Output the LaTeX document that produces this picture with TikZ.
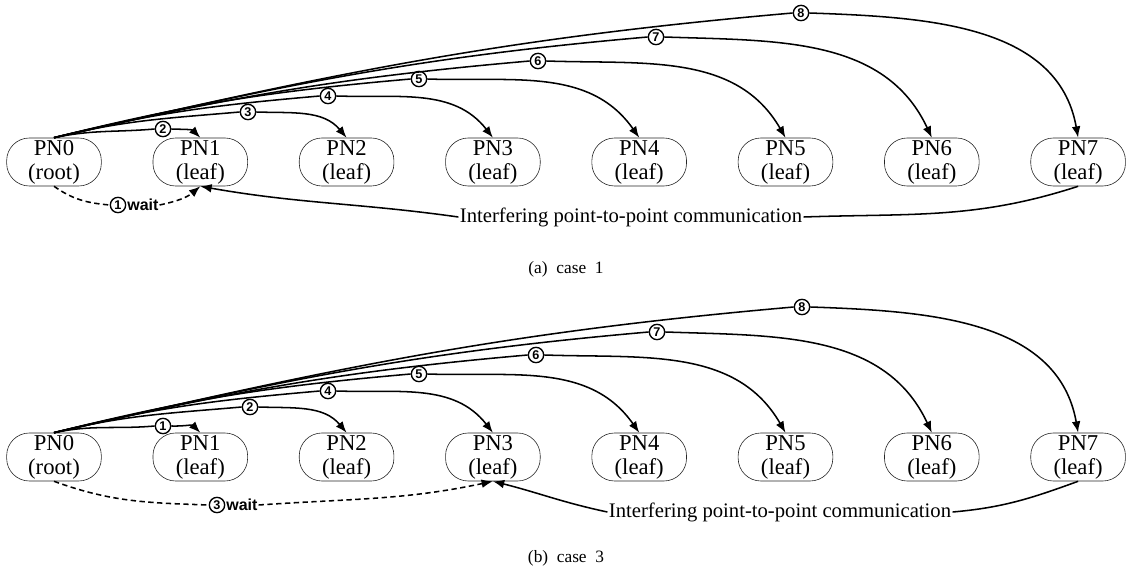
\documentclass[tikz,border=0pt]{standalone}
\usepackage{fontspec}
\setmainfont{Liberation Serif}
\newfontfamily\lblfont{Liberation Sans}
\usetikzlibrary{arrows.meta}
\begin{document}
\begin{tikzpicture}[x=0.75pt,y=0.75pt,
  pn/.style={draw=black!85, line width=0.45pt, rounded corners=17pt,
    minimum width=71pt, minimum height=36pt, inner sep=0pt, align=center,
    font=\fontsize{17}{18}\selectfont},
  num/.style={circle, draw, line width=1pt, fill=white, inner sep=0pt,
    minimum size=11.5pt, font=\lblfont\bfseries\fontsize{9.5}{9.5}\selectfont},
  waittxt/.style={anchor=west, inner sep=0.6pt, fill=white,
    font=\lblfont\bfseries\fontsize{12}{12}\selectfont},
  seg/.style={line width=1.15pt},
  msg/.style={line width=1.15pt, -{Latex[length=8.5pt,width=6.5pt]}},
  waitline/.style={line width=1.15pt, dash pattern=on 4pt off 2.6pt},
  note/.style={inner sep=1pt, font=\fontsize{15.5}{15.5}\selectfont},
  capt/.style={font=\fontsize{13}{13}\selectfont}]
\useasboundingbox (0,0) rectangle (1132,572);

% processing nodes of both cases
\foreach \p/\by in {a/410,b/115}{
  \node[pn] (\p0) at (54,\by) {PN0\\(root)};
  \foreach \i in {1,...,7}
    \node[pn] (\p\i) at ({54+146.3*\i},\by) {PN\i\\(leaf)};
}

% case 1: messages from the root
\foreach \i/\n/\lx/\dy/\oa/\ia in {1/2/163/9/12/135, 2/3/248/26/14/130,
    3/4/328/42/14/128, 4/5/419/59/14/125, 5/6/538/77/13/120,
    6/7/656/101/13/115, 7/8/801/125/13/100}{
  \node[num] (ma\i) at (\lx,434+\dy) {\n};
  \draw[seg] (a0.north) to[out=\oa,in=185] (ma\i.west);
  \draw[msg] (ma\i.east) to[out=-2,in=\ia] (a\i.north);
}

% case 3: messages from the root
\foreach \i/\n/\lx/\dy/\oa/\ia in {1/1/163/7/12/135, 2/2/250/26/14/130,
    3/4/328/42/14/128, 4/5/419/59/14/125, 5/6/536/78/13/120,
    6/7/657/101/13/115, 7/8/802/126/13/100}{
  \node[num] (mb\i) at (\lx,139+\dy) {\n};
  \draw[seg] (b0.north) to[out=\oa,in=185] (mb\i.west);
  \draw[msg] (mb\i.east) to[out=-2,in=\ia] (b\i.north);
}

% case 1: waiting and interfering traffic
\node[num] (wa) at (118,367) {1};
\node[waittxt] (wta) at (wa.east) {wait};
\draw[waitline] (a0.south) to[out=-35,in=175] (wa.west);
\draw[waitline,-{Latex[length=8.5pt,width=6.5pt]}] (wta.east) to[out=12,in=-140] (a1.south);
\node[note] (ia) at (631,355) {Interfering point-to-point communication};
\draw[seg] (a7.south) to[out=198,in=2] (ia.east);
\draw[msg] (ia.west) to[out=172,in=-10] (a1.south);
\node[capt] (ca) at (566,303) {(a)\ \ case\ \ 1};

% case 3: waiting and interfering traffic
\node[num] (wb) at (217,67) {3};
\node[waittxt] (wtb) at (wb.east) {wait};
\draw[waitline] (b0.south) to[out=-20,in=178] (wb.west);
\draw[waitline,-{Latex[length=8.5pt,width=6.5pt]}] (wtb.east) to[out=4,in=-168] (b3.south);
\node[note] (ib) at (780,60) {Interfering point-to-point communication};
\draw[seg] (b7.south) to[out=200,in=5] (ib.east);
\draw[msg] (ib.west) to[out=168,in=-14] (b3.south);
\node[capt] (cb) at (566,14) {(b)\ \ case\ \ 3};
\end{tikzpicture}
\end{document}
